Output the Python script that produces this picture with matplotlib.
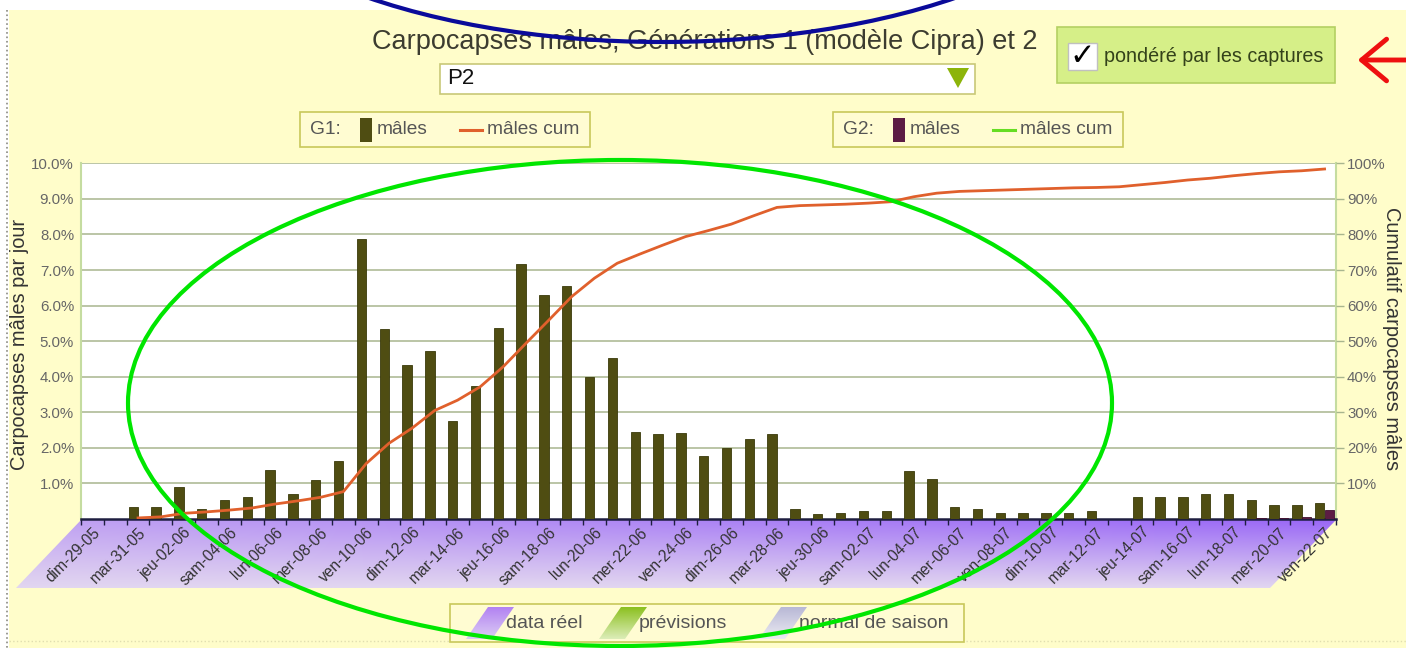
import numpy as np
import matplotlib
matplotlib.use('Agg')
import matplotlib.pyplot as plt
from matplotlib.patches import Rectangle, Polygon, Ellipse, FancyArrowPatch
from matplotlib.colors import to_rgb

plt.rcParams['font.family'] = ['Liberation Sans', 'DejaVu Sans']

# daily categories (29 May -> 22 Jul)
dates = ['dim-29-05', 'lun-30-05', 'mar-31-05', 'mer-01-06', 'jeu-02-06', 'ven-03-06', 'sam-04-06',
         'dim-05-06', 'lun-06-06', 'mar-07-06', 'mer-08-06', 'jeu-09-06', 'ven-10-06', 'sam-11-06',
         'dim-12-06', 'lun-13-06', 'mar-14-06', 'mer-15-06', 'jeu-16-06', 'ven-17-06', 'sam-18-06',
         'dim-19-06', 'lun-20-06', 'mar-21-06', 'mer-22-06', 'jeu-23-06', 'ven-24-06', 'sam-25-06',
         'dim-26-06', 'lun-27-06', 'mar-28-06', 'mer-29-06', 'jeu-30-06', 'ven-01-07', 'sam-02-07',
         'dim-03-07', 'lun-04-07', 'mar-05-07', 'mer-06-07', 'jeu-07-07', 'ven-08-07', 'sam-09-07',
         'dim-10-07', 'lun-11-07', 'mar-12-07', 'mer-13-07', 'jeu-14-07', 'ven-15-07', 'sam-16-07',
         'dim-17-07', 'lun-18-07', 'mar-19-07', 'mer-20-07', 'jeu-21-07', 'ven-22-07']

# % of males per day, generation 1
g1_males = [0, 0, 0.35, 0.35, 0.89, 0.28, 0.53, 0.62, 1.38, 0.69, 1.10, 1.63, 7.88, 5.33,
            4.33, 4.71, 2.76, 3.75, 5.36, 7.16, 6.30, 6.56, 4.00, 4.54, 2.45, 2.38, 2.43, 1.77,
            2.01, 2.24, 2.39, 0.29, 0.14, 0.16, 0.22, 0.23, 1.34, 1.12, 0.33, 0.28, 0.18, 0.18,
            0.18, 0.18, 0.23, 0, 0.62, 0.62, 0.61, 0.70, 0.69, 0.54, 0.40, 0.39, 0.46]

# generation 2
g2_males = [0] * 51 + [0.02, 0.03, 0.05, 0.25]

# cumulative G1 (%), right axis
g1_cum = [np.nan, np.nan, 0.3, 0.6, 1.6, 2.0, 2.5, 3.1, 4.2, 5.1, 6.1, 7.7, 15.6, 21.3, 25.5,
          30.5, 33.4, 37.2, 42.8, 49.4, 55.9, 62.5, 67.7, 71.9, 74.5, 77.0, 79.4, 81.1, 82.9,
          85.3, 87.6, 88.1, 88.3, 88.5, 88.8, 89.2, 90.6, 91.6, 92.1, 92.3, 92.5, 92.7, 92.9,
          93.1, 93.2, 93.4, 94.0, 94.6, 95.3, 95.8, 96.5, 97.1, 97.6, 97.9, 98.4]

left_ticks = [1, 2, 3, 4, 5, 6, 7, 8, 9, 10]
right_ticks = [10, 20, 30, 40, 50, 60, 70, 80, 90, 100]

W, H = 1406, 648
fig = plt.figure(figsize=(W / 100, H / 100), dpi=100)
fig.patch.set_facecolor('white')


def grad_poly(axx, pts, top_col, bot_col, zorder=1):
    pts = np.array(pts, dtype=float)
    x0, x1 = pts[:, 0].min(), pts[:, 0].max()
    y0, y1 = pts[:, 1].min(), pts[:, 1].max()
    if isinstance(top_col, tuple):
        tl, tr = np.array(to_rgb(top_col[0])), np.array(to_rgb(top_col[1]))
    else:
        tl = tr = np.array(to_rgb(top_col))
    b = np.array(to_rgb(bot_col))
    t = np.linspace(0, 1, 64)[:, None, None]
    s = np.linspace(0, 1, 64)[None, :, None]
    top = (1 - s) * tl + s * tr
    img = (1 - t) * top + t * b
    im = axx.imshow(img, extent=(x0, x1, y1, y0), origin='upper', aspect='auto',
                    zorder=zorder, interpolation='bilinear')
    poly = Polygon(pts, closed=True, facecolor='none', edgecolor='none')
    axx.add_patch(poly)
    im.set_clip_path(poly)


# background layer in pixel coords
bg = fig.add_axes([0, 0, 1, 1], zorder=-1)
bg.set_xlim(0, W)
bg.set_ylim(H, 0)
bg.axis('off')
bg.add_patch(Rectangle((9, 10), W - 9, H - 10, facecolor='#fffdca', edgecolor='none'))
bg.plot([7, 7], [10, H], ls=':', color='#8a8a80', lw=1.2)
bg.plot([9, W], [641, 641], ls=':', color='#e0deb0', lw=1)

# purple date band
grad_poly(bg, [(81, 520), (1336, 520), (1270, 588), (16, 588)],
          ('#c0a2f2', '#9a68f6'), '#e2d6f0', zorder=2)

# title, selector, checkbox
fig.text(705 / W, 1 - 42 / H, 'Carpocapses mâles, Générations 1 (modèle Cipra) et 2',
         ha='center', va='center', fontsize=19.5, color='#3c3c30')
bg.add_patch(Rectangle((440, 64), 535, 30, facecolor='white', edgecolor='#c8c878', lw=1.2, zorder=3))
bg.text(447, 79, 'P2', ha='left', va='center', fontsize=16, color='#111111', zorder=4)
bg.add_patch(Polygon([(947, 68), (969, 68), (958, 88)], closed=True, facecolor='#8cb40a',
                     edgecolor='none', zorder=4))

bg.add_patch(Rectangle((1057, 27), 278, 56, facecolor='#d6ef88', edgecolor='#b4d062', lw=1.2, zorder=3))
bg.add_patch(Rectangle((1068, 43), 29, 27, facecolor='white', edgecolor='#c0c0c0', lw=1, zorder=4))
bg.text(1082, 56, '✓', ha='center', va='center', fontsize=22, fontweight='bold',
        color='black', zorder=5, family=['DejaVu Sans'])
bg.text(1104, 57, 'pondéré par les captures', ha='left', va='center', fontsize=14.2,
        color='#34421a', zorder=5)

# series legends
for bx, lab, swc, lnc in [(300, 'G1:', '#4f4d12', '#e0602c'), (833, 'G2:', '#5c1c44', '#66dd22')]:
    bg.add_patch(Rectangle((bx, 112), 290, 35, facecolor='#fffcd2', edgecolor='#c8c85a', lw=1.2, zorder=3))
    bg.text(bx + 10, 129.5, lab, ha='left', va='center', fontsize=13.8, color='#555555', zorder=4)
    bg.add_patch(Rectangle((bx + 60, 118), 12, 24, facecolor=swc, edgecolor='none', zorder=4))
    bg.text(bx + 77, 129.5, 'mâles', ha='left', va='center', fontsize=13.8, color='#555555', zorder=4)
    bg.plot([bx + 160, bx + 182], [129.5, 129.5], color=lnc, lw=2.2, zorder=4)
    bg.text(bx + 187, 129.5, 'mâles cum', ha='left', va='center', fontsize=13.8, color='#555555', zorder=4)

# bottom legend
bg.add_patch(Rectangle((450, 604), 514, 38, facecolor='#fffcd2', edgecolor='#c8c85a', lw=1.2, zorder=3))
for sx, lab, ct, cb in [(466, 'data réel', '#b282f2', '#dccdf4'),
                        (599, 'prévisions', '#8cc020', '#dcedb8'),
                        (759, 'normal de saison', '#b8b8d6', '#ecebf2')]:
    grad_poly(bg, [(sx + 22, 607), (sx + 48, 607), (sx + 26, 639), (sx, 639)], ct, cb, zorder=4)
    bg.text(sx + 40, 623, lab, ha='left', va='center', fontsize=14, color='#555555', zorder=5)

# main chart
ax = fig.add_axes([81 / W, 1 - 519 / H, (1336 - 81) / W, (519 - 163.3) / H], zorder=1)
ax.set_facecolor('white')
x = np.arange(len(dates))
ax.bar(x - 0.21, g1_males, width=0.41, color='#4f4d12', edgecolor='#3a3a0a', lw=0.6, zorder=3)
ax.bar(x + 0.21, g2_males, width=0.41, color='#5c1c44', edgecolor='#40102e', lw=0.6, zorder=3)
ax.set_xlim(-0.5, len(dates) - 0.5)
ax.set_ylim(0, 10)
ax.set_yticks(left_ticks)
ax.set_yticklabels([f'{v:.1f}%' for v in left_ticks])
ax.yaxis.grid(True, color='#a8b58e', lw=1.1)
ax.set_axisbelow(True)
ax.tick_params(axis='y', length=0, pad=5, labelsize=10.8, labelcolor='#666666')
ax.set_xticks(x[::2])
ax.set_xticklabels(dates[::2], rotation=45, ha='right', va='top', rotation_mode='anchor',
                   fontsize=11.2, color='#333333')
ax.set_xticks(np.arange(-0.5, len(dates)), minor=True)
ax.tick_params(axis='x', which='major', length=0, pad=4)
ax.tick_params(axis='x', which='minor', length=4, width=1, color='#1e1e40', direction='out')
ax.spines['top'].set_visible(False)
for side in ['left', 'right']:
    ax.spines[side].set_color('#c5dca0')
    ax.spines[side].set_linewidth(1.5)
ax.spines['bottom'].set_color('#1e1e40')
ax.spines['bottom'].set_linewidth(1.8)

ax2 = ax.twinx()
ax2.plot(x, g1_cum, color='#e0602c', lw=2, zorder=4)
ax2.set_ylim(0, 100)
ax2.set_yticks(right_ticks)
ax2.set_yticklabels([f'{v}%' for v in right_ticks])
ax2.tick_params(axis='y', length=6, width=1, color='#a8b58e', pad=2, labelsize=10.8, labelcolor='#666666')
for s in ax2.spines.values():
    s.set_visible(False)

fig.text(20 / W, 1 - 344 / H, 'Carpocapses mâles par jour', rotation=90, ha='center', va='center',
         fontsize=14.4, color='#333333')
fig.text(1392 / W, 1 - 339 / H, 'Cumulatif carpocapses mâles', rotation=-90, ha='center', va='center',
         fontsize=14.4, color='#333333')

# hand-drawn annotations on top
fg = fig.add_axes([0, 0, 1, 1], zorder=10)
fg.set_xlim(0, W)
fg.set_ylim(H, 0)
fg.axis('off')
fg.patch.set_visible(False)
fg.add_patch(Ellipse((620, 403), 984, 486, fill=False, edgecolor='#00e600', lw=3))
fg.add_patch(Ellipse((662, -158), 936, 400, fill=False, edgecolor='#0a0a9a', lw=3))
fg.add_patch(FancyArrowPatch((1410, 60), (1355, 60), arrowstyle='->,head_length=0.9,head_width=0.75',
                             mutation_scale=20, color='#ee1010', lw=3.5))

fig.savefig('out.png', dpi=100)
